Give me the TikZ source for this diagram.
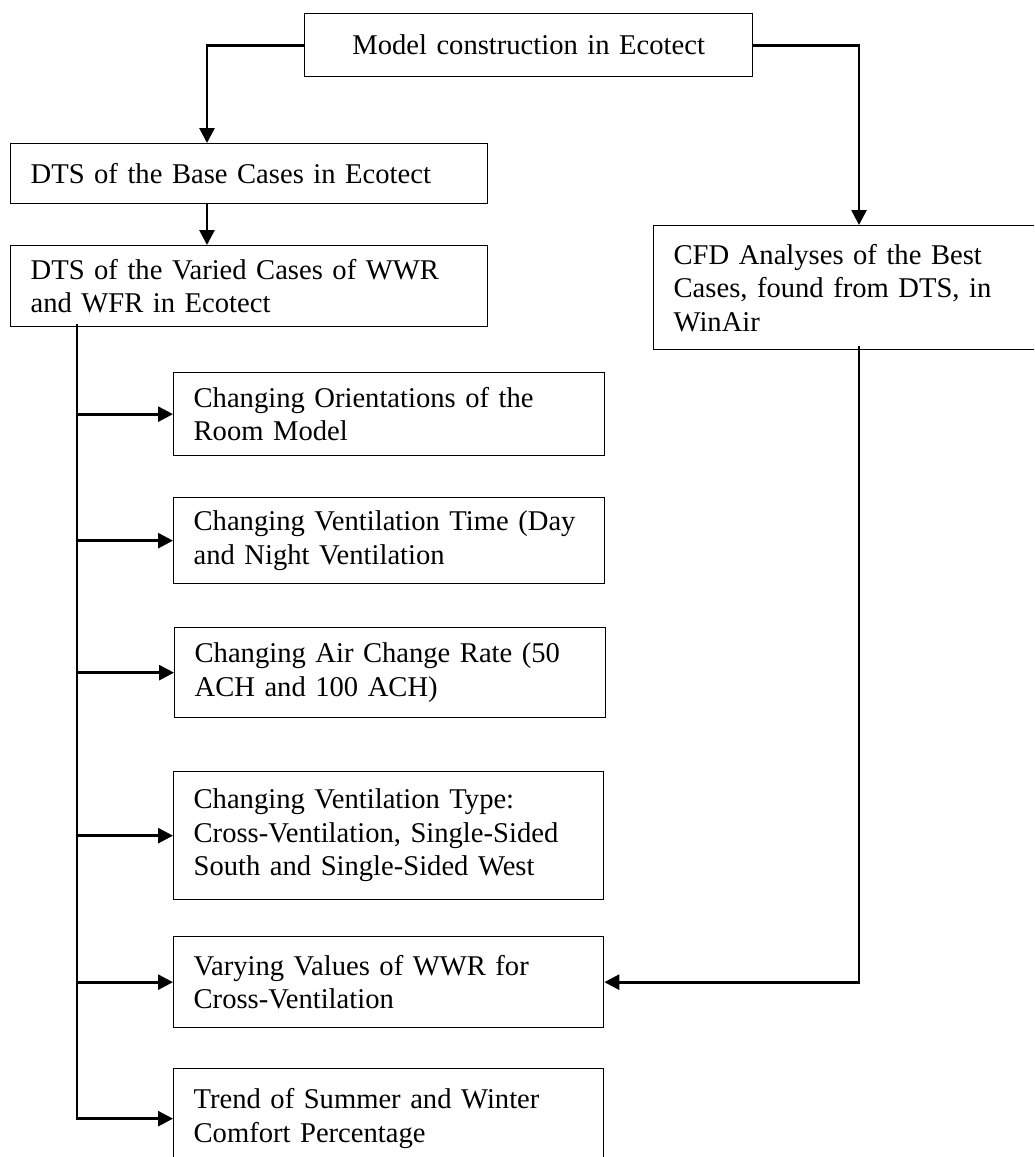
\documentclass[tikz,border=0pt]{standalone}
\usepackage{fontspec}
\setmainfont[WordSpace=0.9]{Liberation Serif}
\usetikzlibrary{arrows.meta}

\begin{document}
\begin{tikzpicture}[x=1pt,y=-1pt,line join=miter,
  font=\fontsize{28.6}{33.5}\selectfont,
  stepbox/.style={draw, line width=1.3pt, rectangle, anchor=north west,
    align=left, inner xsep=20pt, inner ysep=0pt},
  flow/.style={line width=2.7pt, -{Triangle[length=15pt,width=15pt]}},
  trunk/.style={line width=2.7pt}]
\useasboundingbox (0,0) rectangle (1034,1157);
\clip (0,0) rectangle (1034,1157);

\node[stepbox, align=center, text width=408pt, minimum height=63pt] (model) at (304,13)
  {Model construction in Ecotect};
\node[stepbox, text width=437pt, minimum height=60pt] (base) at (10,143)
  {DTS of the Base Cases in Ecotect};
\node[stepbox, text width=437pt, minimum height=81pt] (varied) at (10,245)
  {DTS of the Varied Cases of WWR\\and WFR in Ecotect};
\node[stepbox, text width=355pt, minimum height=124pt] (cfd) at (653,225)
  {CFD Analyses of the Best\\Cases, found from DTS, in\\WinAir};

\node[stepbox, text width=391pt, minimum height=83pt] (orient) at (173,372)
  {Changing Orientations of the\\Room Model};
\node[stepbox, text width=391pt, minimum height=86pt] (vtime) at (173,497)
  {Changing Ventilation Time (Day\\and Night Ventilation};
\node[stepbox, text width=391pt, minimum height=90pt] (ach) at (174,627)
  {Changing Air Change Rate (50\\ACH and 100 ACH)};
\node[stepbox, text width=390pt, minimum height=128pt] (vtype) at (173,771)
  {Changing Ventilation Type:\\Cross-Ventilation, Single-Sided\\South and Single-Sided West};
\node[stepbox, text width=390pt, minimum height=91pt] (wwr) at (173,936)
  {Varying Values of WWR for\\Cross-Ventilation};
\node[stepbox, text width=390pt, minimum height=100pt] (trend) at (173,1068)
  {Trend of Summer and Winter\\Comfort Percentage};

\coordinate (leftrun) at (207,0);
\coordinate (rightrun) at (859,0);
\coordinate (spine) at (77,0);

\draw[flow] (model.west) -| (leftrun |- base.north);
\draw[flow] (leftrun |- base.south) -- (leftrun |- varied.north);
\draw[flow] (model.east) -| (rightrun |- cfd.north);
\draw[flow] ([yshift=4pt]rightrun |- cfd.south) |- (wwr.east);

\draw[flow] ([yshift=3pt]spine |- varied.south) |- (trend.west);
\foreach \n in {orient,vtime,ach,vtype,wwr}
  \draw[flow] (spine |- \n.west) -- (\n.west);
\end{tikzpicture}
\end{document}
